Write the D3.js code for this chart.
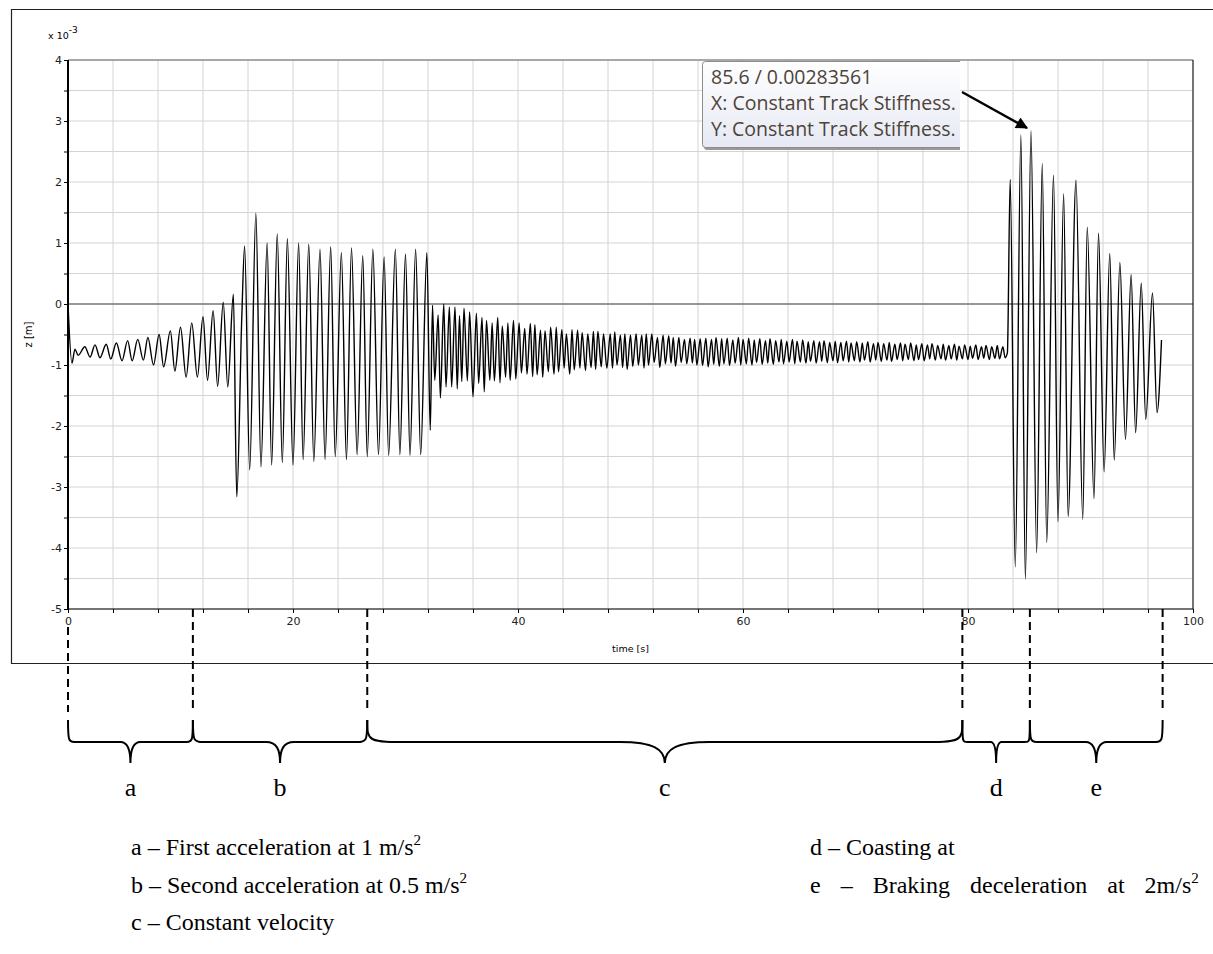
<!DOCTYPE html>
<html>
<head>
<meta charset="utf-8">
<script src="https://cdnjs.cloudflare.com/ajax/libs/d3/7.8.5/d3.min.js"></script>
<style>
  body { margin: 0; background: #fff; }
  svg { display: block; }
</style>
</head>
<body>
<svg id="chart" width="1213" height="954"></svg>
<script>
// extrema: [time (s), z (x 1e-3 m)]
let phaseA = [[0,0],[0.35,-0.97],[0.62,-0.74],[0.9,-0.84],[1.5,-0.7],[1.96,-0.87],[2.4,-0.67],[2.84,-0.88],
  [3.4,-0.66],[3.8,-0.9],[4.3,-0.64],[4.8,-0.93],[5.3,-0.6],[5.7,-0.93],[6.2,-0.58],[6.7,-0.92],[7.1,-0.55],
  [7.6,-1.0],[8.1,-0.5],[8.5,-1.03],[9.1,-0.44],[9.5,-1.1],[10.0,-0.38],[10.5,-1.2],[11.0,-0.31],[11.5,-1.2],
  [12.0,-0.21],[12.4,-1.25],[12.9,-0.11],[13.3,-1.35],[13.8,0.03],[14.2,-1.36],[14.7,0.16]];

let phaseB = [[15.0,-3.16],[15.45,-0.2],[15.7,0.95],[16.15,-2.72],[16.7,1.49],[17.15,-2.67],[17.7,1.0],
  [18.1,-2.64],[18.6,1.15],[19.05,-2.6],[19.5,1.07],[20.0,-2.64],[20.5,1.0],[20.9,-2.55],[21.4,0.98],
  [21.85,-2.58],[22.4,0.9],[22.85,-2.55],[23.35,0.94],[23.75,-2.5],[24.3,0.84],[24.75,-2.55],[25.2,0.92],
  [25.7,-2.47],[26.2,0.79],[26.6,-2.5],[27.1,0.9],[27.6,-2.47],[28.1,0.77],[28.5,-2.48],[29.1,0.9],
  [29.5,-2.47],[30.0,0.82],[30.4,-2.48],[30.9,0.9],[31.35,-2.47],[31.9,0.84],[32.2,-2.07]];

let phaseC = [[32.4,-0.02],[32.6,-1.25],[32.9,-0.18],[33.1,-1.54],[33.4,0.0],[33.6,-1.36],[33.9,-0.05],
  [34.1,-1.36],[34.4,-0.05],[34.6,-1.39],[34.8,-0.19],[35.0,-1.27],[35.2,-0.07],[35.5,-1.26],[35.7,-0.13],
  [36.0,-1.52],[36.3,-0.15],[36.5,-1.3],[36.8,-0.22],[37.0,-1.44],[37.2,-0.27],[37.5,-1.25],[37.7,-0.31],
  [37.9,-1.26],[38.2,-0.22],[38.4,-1.29],[38.6,-0.36],[38.9,-1.2],[39.1,-0.31],[39.3,-1.25],[39.6,-0.27],
  [39.8,-1.23],[40.1,-0.31],[40.3,-1.13],[40.6,-0.4],[40.8,-1.15],[41.1,-0.32],[41.3,-1.19],[41.5,-0.34],
  [41.7,-1.16],[42.0,-0.43],[42.2,-1.2],[42.4,-0.44],[42.7,-1.11],[42.9,-0.38],[43.2,-1.15],[43.4,-0.38],
  [43.6,-1.11],[43.9,-0.42],[44.1,-1.05],[44.3,-0.49],[44.6,-1.15],[44.8,-0.42],[45.0,-1.08],[45.3,-0.43],
  [45.5,-1.05],[45.7,-0.47],[46.0,-1.09],[46.2,-0.49],[46.5,-1.04],[46.7,-0.45],[46.9,-1.07],[47.1,-0.45],
  [47.4,-1.03],[47.6,-0.49],[47.9,-1.05],[48.2,-0.49],[48.4,-1.05],[48.6,-0.46],[48.8,-1.0],[49.1,-0.51],
  [49.3,-1.04],[49.5,-0.49],[49.7,-1.07],[50.0,-0.51],[50.2,-1.02],[50.5,-0.49],[50.7,-1.0],[51.0,-0.51],
  [51.2,-1.05],[51.4,-0.49],[51.6,-1.0],[51.9,-0.49],[52.1,-0.96],[52.4,-0.55],[52.6,-1.04],[52.9,-0.51],
  [53.1,-0.98],[53.4,-0.52],[53.6,-0.97],[53.8,-0.55],[54.0,-1.02],[54.3,-0.55],[54.5,-0.96],[54.8,-0.58],
  [55.0,-0.98],[55.3,-0.56],[55.5,-0.97],[55.7,-0.58],[55.9,-1.0],
  [56.2,-0.57],[56.4,-1.01],[56.7,-0.56],[56.9,-1.03],[57.2,-0.58],[57.4,-0.99],[57.6,-0.55],[57.9,-1.02],
  [58.1,-0.57],[58.3,-0.98],[58.6,-0.56],[58.8,-1.01],[59.1,-0.59],[59.3,-0.97],[59.6,-0.55],[59.8,-1.0],
  [60.0,-0.58],[60.3,-0.98],[60.5,-0.56],[60.8,-1.0],[61.0,-0.59],[61.2,-0.96],[61.5,-0.57],[61.7,-0.99],
  [62.0,-0.6],[62.2,-0.97],[62.4,-0.57],[62.7,-0.99],[62.9,-0.6],[63.2,-0.95],[63.4,-0.58],[63.6,-0.98],
  [63.9,-0.61],[64.1,-0.95],[64.4,-0.58],[64.6,-0.98],[64.8,-0.61],[65.1,-0.95],[65.3,-0.59],[65.6,-0.97],
  [65.8,-0.62],[66.0,-0.94],[66.3,-0.6],[66.5,-0.97],[66.8,-0.62],[67.0,-0.94],[67.2,-0.6],[67.5,-0.96],
  [67.7,-0.63],[68.0,-0.93],[68.2,-0.61],[68.4,-0.96],[68.7,-0.63],[68.9,-0.93],[69.2,-0.61],[69.4,-0.95],
  [69.6,-0.64],[69.9,-0.93],[70.1,-0.62],[70.4,-0.95],[70.6,-0.64],[70.8,-0.92],[71.1,-0.62],[71.3,-0.95],
  [71.6,-0.65],[71.8,-0.92],[72.0,-0.63],[72.3,-0.94],[72.5,-0.65],[72.8,-0.92],[73.0,-0.63],[73.2,-0.94],
  [73.5,-0.66],[73.7,-0.91],[74.0,-0.64],[74.2,-0.93],[74.4,-0.66],[74.7,-0.91],[74.9,-0.64],[75.2,-0.93],
  [75.4,-0.67],[75.6,-0.91],[75.9,-0.65],[76.1,-0.93],[76.4,-0.67],[76.6,-0.9],[76.8,-0.65],[77.1,-0.92],
  [77.3,-0.68],[77.6,-0.9],[77.8,-0.66],[78.0,-0.92],[78.3,-0.68],[78.5,-0.9],[78.8,-0.66],[79.0,-0.92],
  [79.2,-0.69],[79.5,-0.9],[79.7,-0.67],[80.0,-0.91],[80.2,-0.69],[80.4,-0.89],[80.7,-0.67],[80.9,-0.91],
  [81.2,-0.7],[81.4,-0.89],[81.6,-0.68],[81.9,-0.91],[82.1,-0.7],[82.4,-0.89],[82.6,-0.68],[82.8,-0.9],
  [83.1,-0.7],[83.3,-0.88],[83.5,-0.8]];

let phaseE = [[83.75,2.04],[84.2,-4.31],[84.7,2.77],[85.1,-4.51],[85.6,2.836],[86.1,-4.08],[86.6,2.3],
  [87.0,-3.91],[87.6,2.11],[88.0,-3.57],[88.5,1.81],[88.9,-3.48],[89.6,2.03],[90.2,-3.53],[90.6,1.26],
  [91.2,-3.19],[91.6,1.16],[92.1,-2.75],[92.6,0.83],[93.0,-2.56],[93.5,0.68],[94.0,-2.22],[94.5,0.48],
  [94.9,-2.11],[95.4,0.34],[95.8,-1.89],[96.4,0.18],[96.8,-1.78],[97.2,-0.59]];

let xTicks = [0,4,8,12,16,20,24,28,32,36,40,44,48,52,56,60,64,68,72,76,80,84,88,92,96,100];
let xLabels = [0, 20, 40, 60, 80, 100];
let yTicks = [-5,-4.5,-4,-3.5,-3,-2.5,-2,-1.5,-1,-0.5,0,0.5,1,1.5,2,2.5,3,3.5,4];

// phase boundaries (s) and their letters
let phaseBounds = [0, 11.1, 26.6, 79.5, 85.5, 97.3];
let phaseNames = ["a", "b", "c", "d", "e"];

let legendLeft = [["a \u2013 First acceleration at 1 m/s", "2"],
                  ["b \u2013 Second acceleration at 0.5 m/s", "2"],
                  ["c \u2013 Constant velocity", ""]];
let legendRight = [["d \u2013 Coasting at", ""],
                   ["e \u2013 Braking deceleration at 2m/s", "2"]];

let tipPoint = [85.6, 2.83561];
let tipLines = ["85.6 / 0.00283561", "X: Constant Track Stiffness.", "Y: Constant Track Stiffness."];


let svg = d3.select("#chart");

let x = d3.scaleLinear().domain([0, 100]).range([68, 1193]);
let y = d3.scaleLinear().domain([-5, 4]).range([609, 60]);

let axisFont = "DejaVu Sans, Verdana, sans-serif";
let serifFont = "Liberation Serif, Times New Roman, serif";

// outer frame of the screenshot (open on the right)
svg.append("path")
  .attr("d", "M1213,9.5 L11.5,9.5 L11.5,663.5 L1213,663.5")
  .attr("fill", "none").attr("stroke", "#222").attr("stroke-width", 1.2);

// grid
let grid = svg.append("g").attr("stroke", "#d4d4d4").attr("stroke-width", 1);
grid.selectAll(".gx").data(xTicks).enter().append("line")
  .attr("x1", d => x(d)).attr("x2", d => x(d))
  .attr("y1", y(4)).attr("y2", y(-5));
grid.selectAll(".gy").data(yTicks).enter().append("line")
  .attr("x1", x(0)).attr("x2", x(100))
  .attr("y1", d => y(d)).attr("y2", d => y(d));

// zero line
svg.append("line")
  .attr("x1", x(0)).attr("x2", x(100))
  .attr("y1", y(0)).attr("y2", y(0))
  .attr("stroke", "#7b7b7b").attr("stroke-width", 1.6);

// plot border
svg.append("line").attr("x1", x(0)).attr("x2", x(100)).attr("y1", y(4)).attr("y2", y(4))
  .attr("stroke", "#666");
svg.append("line").attr("x1", x(100)).attr("x2", x(100)).attr("y1", y(4)).attr("y2", y(-5))
  .attr("stroke", "#000");

// axes
let yAxis = d3.axisLeft(y)
  .tickValues(yTicks)
  .tickSize(4)
  .tickPadding(2)
  .tickFormat(d => Number.isInteger(d) ? String(d) : "");
svg.append("g")
  .attr("transform", "translate(" + x(0) + ",0)")
  .call(yAxis)
  .call(g => g.select(".domain").remove())
  .selectAll("text")
  .style("font-family", axisFont)
  .style("font-size", "11px")
  .attr("fill", "#222");

let xAxis = d3.axisBottom(x)
  .tickValues(xTicks)
  .tickSize(4)
  .tickPadding(4)
  .tickFormat(d => xLabels.includes(d) ? String(d) : "");
svg.append("g")
  .attr("transform", "translate(0," + y(-5) + ")")
  .call(xAxis)
  .call(g => g.select(".domain").remove())
  .selectAll("text")
  .style("font-family", axisFont)
  .style("font-size", "11px")
  .attr("fill", "#222");

svg.append("line").attr("x1", x(0)).attr("x2", x(0)).attr("y1", y(4)).attr("y2", y(-5))
  .attr("stroke", "#000").attr("stroke-width", 2);
svg.append("line").attr("x1", x(0)).attr("x2", x(100)).attr("y1", y(-5)).attr("y2", y(-5))
  .attr("stroke", "#000").attr("stroke-width", 1.2);

// axis titles
svg.append("text")
  .attr("x", 48).attr("y", 39)
  .style("font-family", axisFont).style("font-size", "9.5px")
  .text("x 10")
  .append("tspan").attr("dy", -6).style("font-size", "9px").text("-3");

svg.append("text")
  .attr("transform", "translate(32," + ((y(4) + y(-5)) / 2) + ") rotate(-90)")
  .attr("text-anchor", "middle")
  .style("font-family", axisFont).style("font-size", "10px")
  .text("z  [m]");

svg.append("text")
  .attr("x", (x(0) + x(100)) / 2).attr("y", 652)
  .attr("text-anchor", "middle")
  .style("font-family", axisFont).style("font-size", "9.5px")
  .text("time [s]");

// signal trace
let series = phaseA.concat(phaseB, phaseC, phaseE);
let line = d3.line()
  .x(d => x(d[0]))
  .y(d => y(d[1]))
  .curve(d3.curveMonotoneX);

svg.append("path")
  .datum(series)
  .attr("d", line)
  .attr("fill", "none")
  .attr("stroke", "#000")
  .attr("stroke-width", 1.4)
  .attr("stroke-linejoin", "round");

// dashed phase markers
svg.append("g").selectAll("line").data(phaseBounds).enter().append("line")
  .attr("x1", d => x(d)).attr("x2", d => x(d))
  .attr("y1", d => d === 0 ? 627 : y(-5))
  .attr("y2", 712)
  .attr("stroke", "#000").attr("stroke-width", 2)
  .attr("stroke-dasharray", "8,5");

// braces
function brace(x0, x1, yTop, yMid, yTip) {
  let m = (x0 + x1) / 2;
  let w = Math.min(45, (x1 - x0) * 0.08);
  let k = yMid + (yTip - yMid) * 0.35;
  return "M" + x0 + "," + yTop +
    " C" + x0 + "," + yMid + " " + x0 + "," + yMid + " " + (x0 + w) + "," + yMid +
    " L" + (m - w) + "," + yMid +
    " C" + (m - w * 0.25) + "," + yMid + " " + m + "," + k + " " + m + "," + yTip +
    " C" + m + "," + k + " " + (m + w * 0.25) + "," + yMid + " " + (m + w) + "," + yMid +
    " L" + (x1 - w) + "," + yMid +
    " C" + x1 + "," + yMid + " " + x1 + "," + yMid + " " + x1 + "," + yTop;
}

let phases = phaseNames.map((n, i) => ({ name: n, t0: phaseBounds[i], t1: phaseBounds[i + 1] }));

svg.append("g").selectAll("path").data(phases).enter().append("path")
  .attr("d", d => brace(x(d.t0), x(d.t1), 720, 742, 763))
  .attr("fill", "none").attr("stroke", "#000").attr("stroke-width", 2);

svg.append("g").selectAll("text").data(phases).enter().append("text")
  .attr("x", d => (x(d.t0) + x(d.t1)) / 2)
  .attr("y", 796)
  .attr("text-anchor", "middle")
  .style("font-family", serifFont)
  .style("font-size", "26px")
  .text(d => d.name);

// legend (the last line is justified out to the right margin in the document)
function legendBlock(items, left, stretchLast) {
  let t = svg.append("g").selectAll("text").data(items).enter().append("text")
    .attr("x", left)
    .attr("y", (d, i) => 855 + i * 37.5)
    .style("font-family", serifFont)
    .style("font-size", "24px")
    .style("word-spacing", (d, i) => stretchLast && i === items.length - 1 ? "14px" : "0px")
    .text(d => d[0]);
  t.append("tspan").attr("dy", -10).style("font-size", "15px").text(d => d[1]);
}
legendBlock(legendLeft, 131, false);
legendBlock(legendRight, 810, true);

// data tip
let defs = svg.append("defs");
let grad = defs.append("linearGradient").attr("id", "tipFill").attr("x1", 0).attr("x2", 0).attr("y1", 0).attr("y2", 1);
grad.append("stop").attr("offset", "0%").attr("stop-color", "#ffffff");
grad.append("stop").attr("offset", "100%").attr("stop-color", "#e6e9f4");
defs.append("clipPath").attr("id", "tipClip")
  .append("rect").attr("x", 690).attr("y", 50).attr("width", 270).attr("height", 110);

let tip = svg.append("g").attr("clip-path", "url(#tipClip)");
tip.append("rect")
  .attr("x", 704).attr("y", 63).attr("width", 300).attr("height", 87).attr("rx", 3)
  .attr("fill", "#9a9a9a");
tip.append("rect")
  .attr("x", 702.5).attr("y", 61.5).attr("width", 300).attr("height", 86).attr("rx", 3)
  .attr("fill", "url(#tipFill)").attr("stroke", "#8c8c8c");
tip.selectAll(".tl").data(tipLines).enter().append("text")
  .attr("x", 711)
  .attr("y", (d, i) => 84 + i * 26)
  .style("font-family", "Open Sans, Noto Sans, sans-serif")
  .style("font-size", "19.5px")
  .attr("fill", "#4d4339")
  .text(d => d);

defs.append("marker").attr("id", "arrow")
  .attr("viewBox", "0 0 10 10").attr("refX", 9).attr("refY", 5)
  .attr("markerWidth", 6).attr("markerHeight", 5).attr("orient", "auto")
  .append("path").attr("d", "M0,0 L10,5 L0,10 Z").attr("fill", "#000");

svg.append("line")
  .attr("x1", 962).attr("y1", 92)
  .attr("x2", x(tipPoint[0]) - 4).attr("y2", y(tipPoint[1]) - 3)
  .attr("stroke", "#000").attr("stroke-width", 2.4)
  .attr("marker-end", "url(#arrow)");
</script>
</body>
</html>
